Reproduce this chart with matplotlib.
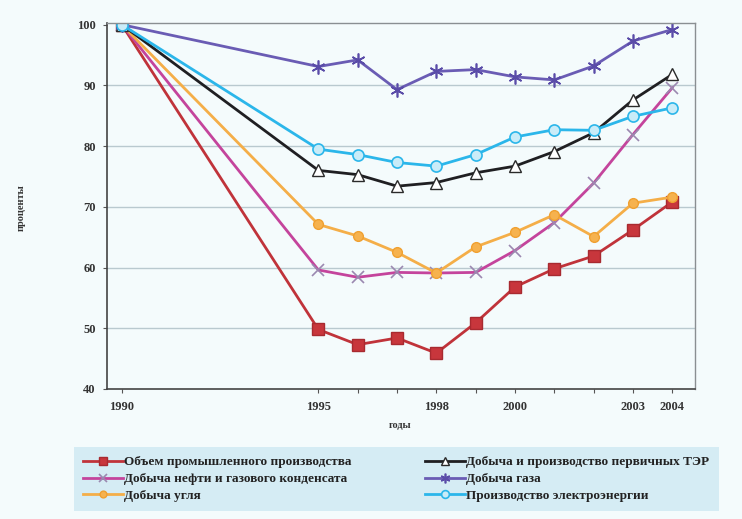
import matplotlib
matplotlib.use("Agg")
import matplotlib.pyplot as plt

years = [1990, 1995, 1996, 1997, 1998, 1999, 2000, 2001, 2002, 2003, 2004]
industry = [100, 49.8, 47.3, 48.4, 45.9, 50.9, 56.8, 59.8, 61.9, 66.2, 70.8]
oil = [100, 59.6, 58.4, 59.2, 59.1, 59.2, 62.8, 67.4, 73.9, 81.9, 89.6]
coal = [100, 67.1, 65.2, 62.5, 59.1, 63.4, 65.8, 68.7, 65.1, 70.6, 71.6]
primary = [100, 76.0, 75.3, 73.4, 74.0, 75.6, 76.7, 79.1, 82.2, 87.6, 91.8]
gas = [100, 93.1, 94.2, 89.3, 92.3, 92.6, 91.4, 90.9, 93.2, 97.3, 99.2]
power = [100, 79.5, 78.6, 77.3, 76.7, 78.6, 81.5, 82.7, 82.6, 84.9, 86.3]

labels = ["Объем промышленного производства",
          "Добыча нефти и газового конденсата",
          "Добыча угля",
          "Добыча и производство первичных ТЭР",
          "Добыча газа",
          "Производство электроэнергии"]
xtick_years = [1990, 1995, 1998, 2000, 2003, 2004]
yticks = [40, 50, 60, 70, 80, 90, 100]

plt.rcParams['font.family'] = ['Liberation Serif', 'DejaVu Serif']
plt.rcParams['font.weight'] = 'bold'

bg = '#f4fbfc'
fig = plt.figure(figsize=(7.42, 5.19), dpi=100, facecolor=bg)
ax = fig.add_axes([0.144, 0.2505, 0.793, 0.7055], facecolor=bg)

ax.set_xlim(1989.62, 2004.585)
ax.set_ylim(40, 100.3)
for v in [50, 60, 70, 80, 90]:
    ax.axhline(v, color='#b9c9cf', lw=1.0, zorder=0)

lw = 2.0
h = []
h += ax.plot(years, industry, color='#c0333a', lw=lw, marker='s', ms=8,
             mfc='#c8363c', mec='#a82a30', label=labels[0])
h += ax.plot(years, oil, color='#c4449c', lw=lw, marker='x', ms=8, mew=1.2,
             mec='#9a88b0', label=labels[1])
h += ax.plot(years, coal, color='#f4ae48', lw=lw, marker='o', ms=7,
             mfc='#f6b24e', mec='#f0a030', label=labels[2])
h += ax.plot(years, primary, color='#1f1f22', lw=lw, marker='^', ms=9,
             mfc='white', mec='#2a2a2a', mew=1.0, label=labels[3])
h += ax.plot(years, gas, color='#6a5cb4', lw=lw, marker=(6, 2, 0), ms=10,
             mec='#5a4ca8', mew=1.2, label=labels[4])
h += ax.plot(years, power, color='#2bb6ea', lw=lw, marker='o', ms=8,
             mfc='#c9ecf8', mec='#2bb6ea', mew=1.2, label=labels[5])

ax.set_xticks(years)
ax.set_xticklabels([str(y) if y in xtick_years else '' for y in years])
ax.set_yticks(yticks)
ax.tick_params(axis='both', labelsize=9, length=3, color='#555555', labelcolor='#333333')
ax.tick_params(axis='x', pad=6)
ax.tick_params(axis='y', pad=5)
for s in ['top', 'right']:
    ax.spines[s].set_color('#8a8f92')
    ax.spines[s].set_linewidth(1.0)
for s in ['left', 'bottom']:
    ax.spines[s].set_color('#444444')
    ax.spines[s].set_linewidth(1.2)

fig.text(0.539, 0.181, 'годы', fontsize=7.5, ha='center', va='center', color='#333333')
fig.text(0.028, 0.60, 'проценты', fontsize=7.5, rotation=90, ha='center', va='center', color='#333333')

leg = fig.legend(handles=h, loc='center', ncol=2, bbox_to_anchor=(0.534, 0.077),
                 frameon=True, fontsize=9.5, handlelength=3.0, columnspacing=5.6,
                 handletextpad=0.1, labelspacing=0.35, borderpad=0.7, markerscale=0.7)
frame = leg.get_frame()
frame.set_facecolor('#d5ecf4')
frame.set_edgecolor('none')
frame.set_alpha(1)
frame.set_boxstyle('square', pad=0)
for t in leg.get_texts():
    t.set_color('#222222')

fig.savefig('out.png', dpi=100, facecolor=bg)
